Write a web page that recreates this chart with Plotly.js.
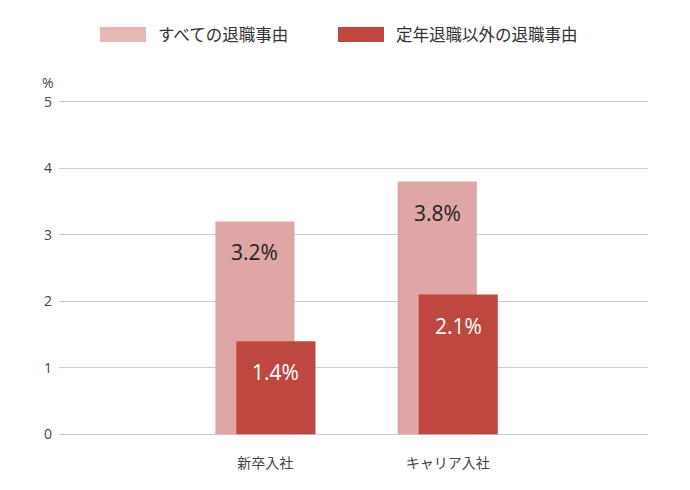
<!DOCTYPE html>
<html>
<head>
<meta charset="utf-8">
<script src="https://cdn.plot.ly/plotly-3.0.1.min.js"></script>
<style>
  html, body { margin: 0; padding: 0; background: #fff; }
</style>
</head>
<body>
<div id="chart" style="width:690px; height:490px;"></div>
<script>
  var categories = ["新卒入社", "キャリア入社"];
  var seriesNames = ["すべての退職事由", "定年退職以外の退職事由"];
  var allReasons = [3.2, 3.8];
  var nonRetirement = [1.4, 2.1];
  var yTicks = [0, 1, 2, 3, 4, 5];

  var barWidth = 0.434;
  var offsets = [-0.274, -0.159];
  var barColors = ["#e0a6a5", "#be4840"];
  var legendColors = ["#e8b8b7", "#be4840"];
  var labelColors = ["#222222", "#ffffff"];
  var seriesValues = [allReasons, nonRetirement];

  var traces = seriesValues.map(function (vals, s) {
    return {
      type: "bar",
      name: seriesNames[s],
      x: categories,
      y: vals,
      width: vals.map(function () { return barWidth; }),
      offset: vals.map(function () { return offsets[s]; }),
      marker: { color: barColors[s], line: { width: 0 } },
      hoverinfo: "skip",
      showlegend: false
    };
  });

  var annotations = [];
  seriesValues.forEach(function (vals, s) {
    vals.forEach(function (v, i) {
      annotations.push({
        x: i + offsets[s] + barWidth / 2,
        y: v,
        xref: "x",
        yref: "y",
        text: v.toFixed(1) + "%",
        showarrow: false,
        yanchor: "top",
        yshift: -15,
        font: { size: 21, color: labelColors[s] }
      });
    });
  });

  // paper coords: plot area spans y 100..436 px
  function py(px) { return (436 - px) / 336; }
  function px(p) { return (p - 59) / 589; }

  annotations.push({
    x: 0, y: py(101.5), xref: "paper", yref: "paper",
    xanchor: "right", yanchor: "bottom", xshift: -3, yshift: 8,
    text: "%", showarrow: false,
    font: { size: 14, color: "#444" }
  });

  var shapes = [];
  var legendX = [100, 338];
  seriesNames.forEach(function (name, s) {
    shapes.push({
      type: "rect", xref: "paper", yref: "paper",
      x0: px(legendX[s]), x1: px(legendX[s] + 46),
      y0: py(42), y1: py(27),
      fillcolor: legendColors[s], line: { width: 0 }
    });
    annotations.push({
      x: px(legendX[s] + 56), y: py(34.5),
      xref: "paper", yref: "paper",
      xanchor: "left", yanchor: "middle",
      text: name, showarrow: false,
      font: { size: 16.5, color: "#333" }
    });
  });

  var layout = {
    width: 690,
    height: 490,
    margin: { l: 59, r: 42, t: 100, b: 54 },
    paper_bgcolor: "#ffffff",
    plot_bgcolor: "#ffffff",
    font: { family: "'Open Sans', 'Noto Sans CJK JP', sans-serif", color: "#444" },
    barmode: "overlay",
    showlegend: false,
    xaxis: {
      type: "category",
      range: [-1.132, 2.099],
      showgrid: false,
      zeroline: false,
      showline: false,
      ticks: "",
      ticklabelstandoff: 17,
      tickfont: { size: 14, color: "#444" },
      fixedrange: true
    },
    yaxis: {
      range: [-0.025, 5.025],
      tickvals: yTicks,
      ticktext: yTicks.map(String),
      showgrid: true,
      gridcolor: "#cccccc",
      gridwidth: 1.3,
      zeroline: false,
      showline: false,
      ticks: "",
      ticklabelstandoff: 6,
      tickfont: { size: 14, color: "#444" },
      fixedrange: true
    },
    shapes: shapes,
    annotations: annotations
  };

  Plotly.newPlot("chart", traces, layout, { displayModeBar: false, staticPlot: true });
</script>
</body>
</html>
